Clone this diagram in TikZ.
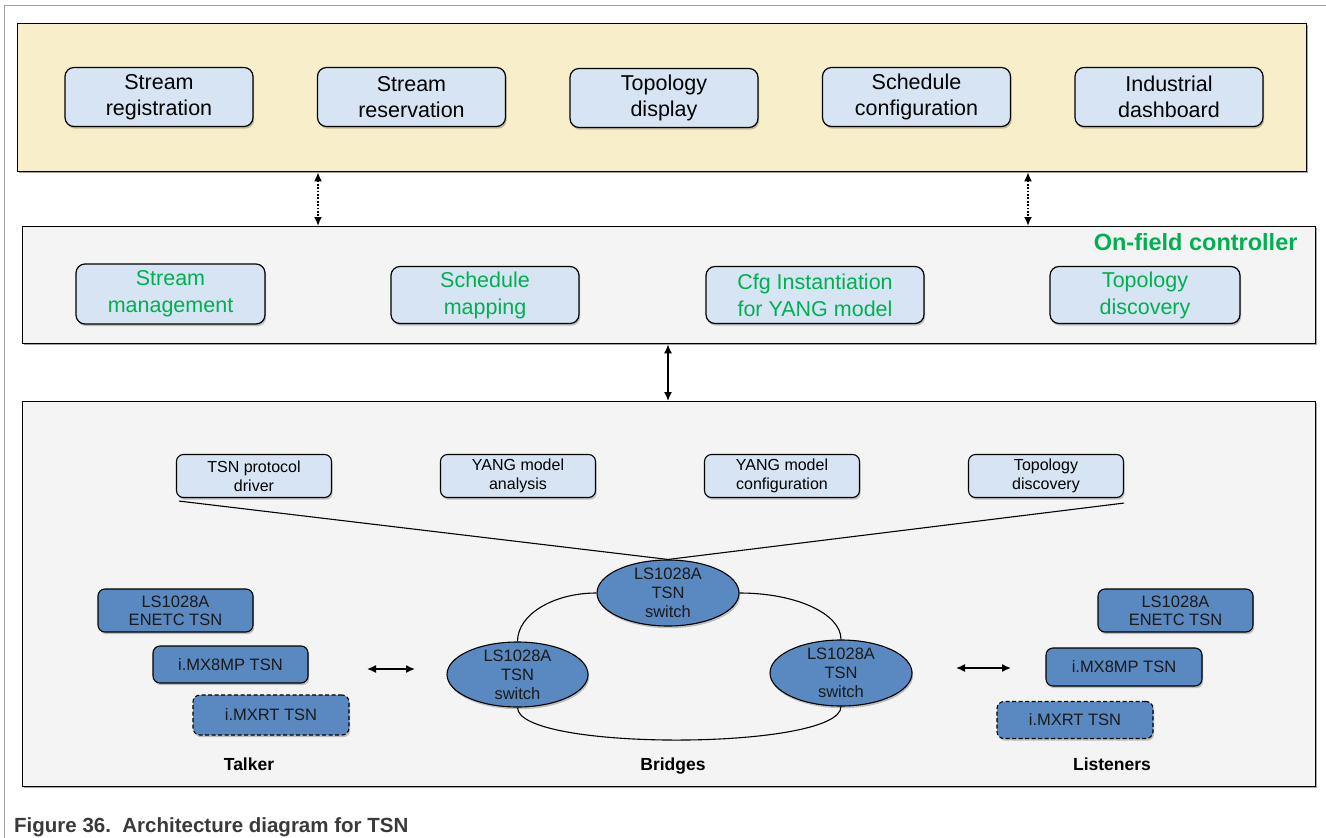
\documentclass[tikz,border=0pt]{standalone}
\usepackage{fontspec}
\setmainfont{Liberation Sans}
\usetikzlibrary{arrows.meta,shapes.geometric,shadows}

\definecolor{panelyellow}{HTML}{F9EECA}
\definecolor{panelgray}{HTML}{F4F4F4}
\definecolor{boxblue}{HTML}{D6E4F4}
\definecolor{devblue}{HTML}{5A88C0}
\definecolor{ctrlgreen}{HTML}{00B050}
\definecolor{framegray}{HTML}{A0A0A0}
\definecolor{captiongray}{HTML}{3A3A3A}
\definecolor{devtext}{HTML}{1A1A1A}

\begin{document}
\begin{tikzpicture}[x=1pt,y=-1pt,
  softshadow/.style={drop shadow={shadow xshift=1.2pt,shadow yshift=-2.2pt,opacity=0.22,fill=black}},
  panel/.style={draw,line width=1.3pt,inner sep=0pt,anchor=north west,
    drop shadow={shadow xshift=1.2pt,shadow yshift=-1.2pt,opacity=0.35,fill=black}},
  tbox/.style={draw,line width=1.2pt,rounded corners=9pt,fill=boxblue,softshadow,
    minimum width=188pt,minimum height=59pt,inner sep=0pt,align=center,
    font=\fontsize{21.5}{26}\selectfont},
  gbox/.style={tbox,text=ctrlgreen,font=\fontsize{21.5}{27}\selectfont},
  sbox/.style={draw,line width=1.1pt,rounded corners=7pt,fill=boxblue,softshadow,
    minimum width=155pt,minimum height=43pt,inner sep=0pt,align=center,
    font=\fontsize{16}{19}\selectfont},
  devbox/.style={draw,line width=1.1pt,rounded corners=7pt,fill=devblue,softshadow,
    minimum width=155pt,inner sep=0pt,align=center,text=devtext,
    font=\fontsize{16.5}{18}\selectfont},
  dashbox/.style={devbox,dash pattern=on 4pt off 2.5pt},
  switchnode/.style={ellipse,draw,line width=1.1pt,fill=devblue,softshadow,
    minimum width=142pt,minimum height=66pt,inner xsep=0pt,inner ysep=-6pt,
    align=center,text=devtext,font=\fontsize{16.5}{19}\selectfont},
  grouplabel/.style={font=\fontsize{17.5}{20}\selectfont\bfseries,anchor=base},
  link/.style={line width=1.1pt},
  dblarrow/.style={line width=1.5pt,{Latex[length=9pt,width=8pt]}-{Latex[length=9pt,width=8pt]}},
  dotarrow/.style={dblarrow,line width=1.8pt,dash pattern=on 1.8pt off 1.6pt}
]
\useasboundingbox (0,0) rectangle (1326,838);

% page frame
\draw[framegray,line width=1pt] (4,838) -- (4,5) -- (1326,5);

% three layers
\node[panel,fill=panelyellow,minimum width=1289pt,minimum height=148pt] (app) at (17,23) {};
\node[panel,fill=panelgray,minimum width=1293pt,minimum height=117pt] (ctrl) at (22,226) {};
\node[panel,fill=panelgray,minimum width=1293pt,minimum height=385pt] (net) at (22,401) {};

% application layer
\node[tbox] (t1) at (159,97) {Stream\\registration};
\node[tbox] (t2) at (411.5,97) {Stream\\reservation};
\node[tbox] (t3) at (664,98) {Topology\\display};
\node[tbox] (t4) at (916.5,97) {Schedule\\configuration};
\node[tbox] (t5) at (1169,97) {Industrial\\dashboard};

% controller layer
\node[font=\fontsize{23.5}{26}\selectfont\bfseries,text=ctrlgreen,anchor=base east] (ctrltitle) at (1301,250) {On-field controller};
\node[gbox,minimum width=189pt,minimum height=60pt] (m1) at (170.5,294) {Stream\\management};
\node[gbox,minimum height=57pt] (m2) at (485,295) {Schedule\\mapping};
\node[gbox,minimum width=218pt,minimum height=57pt] (m3) at (815,295) {Cfg Instantiation\\for YANG model};
\node[gbox,minimum width=190pt,minimum height=57pt] (m4) at (1145,295) {Topology\\discovery};

% links between layers
\draw[dotarrow] ([xshift=301pt]app.south west) -- ([xshift=296pt]ctrl.north west);
\draw[dotarrow] ([xshift=1011pt]app.south west) -- ([xshift=1006pt]ctrl.north west);
\draw[dblarrow] ([xshift=646pt]ctrl.south west) -- ([xshift=646pt]net.north west);

% network layer: software blocks
\node[sbox] (s1) at (254,476) {TSN protocol\\driver};
\node[sbox] (s2) at (518,476) {YANG model\\analysis};
\node[sbox] (s3) at (782,476) {YANG model\\configuration};
\node[sbox] (s4) at (1046,476) {Topology\\discovery};

% bridges
\node[switchnode] (swt) at (668,593) {LS1028A\\TSN\\switch};
\node[switchnode,minimum width=141pt,minimum height=65pt] (swl) at (517.5,674.5) {LS1028A\\TSN\\switch};
\node[switchnode] (swr) at (841,673) {LS1028A\\TSN\\switch};

\draw[link] ([xshift=3pt,yshift=-3pt]s1.south west) -- (swt.north);
\draw[link] ([yshift=-5pt]s4.south east) -- (swt.north);

% ring between the bridges
\draw[link] (swt.west) .. controls +(-43,0) and +(0,-27) .. (swl.north);
\draw[link] (swt.east) .. controls +(56,0) and +(0,-26) .. (swr.north);
\draw[link] (swl.south) .. controls +(0,44) and +(0,44) .. (swr.south);

% talkers
\node[devbox,minimum height=43pt] (tk1) at (175.5,610.5) {LS1028A\\ENETC TSN};
\node[devbox,minimum height=37pt] (tk2) at (230.5,664.5) {i.MX8MP TSN};
\node[dashbox,minimum width=156pt,minimum height=40pt] (tk3) at (271,715) {i.MXRT TSN};

% listeners
\node[devbox,minimum height=43pt] (ls1) at (1175.5,610.5) {LS1028A\\ENETC TSN};
\node[devbox,minimum width=156pt,minimum height=38pt] (ls2) at (1124,667) {i.MX8MP TSN};
\node[dashbox,minimum width=156pt,minimum height=37pt] (ls3) at (1075,720) {i.MXRT TSN};

% talker / listener links to the bridges
\coordinate (tka) at (367,669);
\coordinate (tkb) at (415,669);
\coordinate (lsa) at (956,668);
\coordinate (lsb) at (1011,668);
\draw[dblarrow] (tka) -- (tkb);
\draw[dblarrow] (lsa) -- (lsb);

% group labels
\node[grouplabel] (lbtalker) at (249,770) {Talker};
\node[grouplabel] (lbbridges) at (673,770) {Bridges};
\node[grouplabel] (lblisteners) at (1112,770) {Listeners};

% caption
\node[anchor=base west,inner sep=0pt,text=captiongray,font=\fontsize{20.5}{24}\selectfont\bfseries] (caption) at (14,832) {Figure 36.\ \ Architecture diagram for TSN};
\end{tikzpicture}
\end{document}
